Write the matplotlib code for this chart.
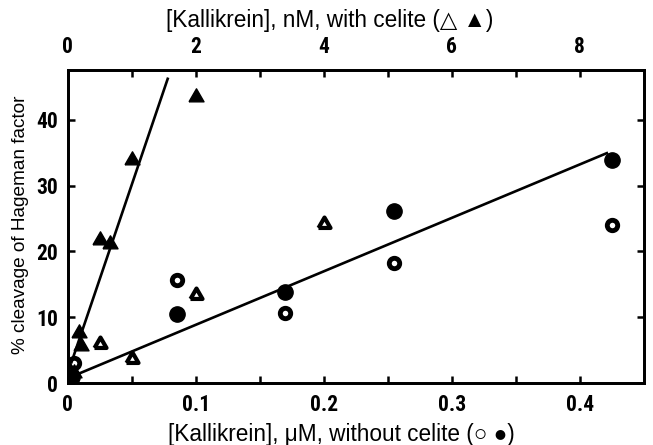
import matplotlib
matplotlib.use("Agg")
import matplotlib.pyplot as plt
import numpy as np

# ---- data ----
# without celite (bottom axis, uM)
open_circ_x = [0.005, 0.085, 0.17, 0.255, 0.425]
open_circ_y = [3.0, 15.7, 10.7, 18.2, 24.0]
fill_circ_x = [0.003, 0.085, 0.17, 0.255, 0.425]
fill_circ_y = [1.0, 10.5, 13.8, 26.1, 33.9]
# with celite (top axis, nM)
open_tri_x = [0.5, 1.0, 2.0, 4.0]
open_tri_y = [5.9, 3.6, 13.4, 24.1]
fill_tri_x = [0.1, 0.17, 0.2, 0.5, 0.66, 1.0, 2.0]
fill_tri_y = [1.5, 7.6, 5.7, 21.8, 21.2, 33.9, 43.4]
# fitted lines (endpoints)
line_uM_x = [0.008, 0.422]
line_uM_y = [1.4, 35.0]
line_nM_x = [0.05, 1.566]
line_nM_y = [3.0, 46.4]

bottom_ticks = [0, 0.1, 0.2, 0.3, 0.4]
bottom_labels = ["0", "0.1", "0.2", "0.3", "0.4"]
top_ticks = [0, 2, 4, 6, 8]
y_ticks = [0, 10, 20, 30, 40]

tick_font = ['Roboto Condensed', 'Barlow Condensed', 'Special Gothic Condensed One', 'DejaVu Sans']
label_font = ['Liberation Sans', 'DejaVu Sans']

fig = plt.figure(figsize=(6.53, 4.45), dpi=100)
ax = fig.add_axes([0.104, 0.139, 0.882, 0.703])
ax2 = ax.twiny()

ax.set_xlim(0, 0.45)
ax.set_ylim(0, 47.5)
ax2.set_xlim(0, 9)

lw = 1.9
tri = [(-1, -0.577), (1, -0.577), (0, 1.155), (-1, -0.577)]

ax.plot(line_uM_x, line_uM_y, color='black', lw=lw, solid_capstyle='butt', zorder=2)
ax2.plot(line_nM_x, line_nM_y, color='black', lw=lw, solid_capstyle='butt', zorder=2)

ax.plot(fill_circ_x, fill_circ_y, 'o', ms=11, color='black', mec='black', zorder=3)
ax.plot(open_circ_x, open_circ_y, 'o', ms=7.5, mfc='white', mec='black', mew=3.5, zorder=3)
ax2.plot(fill_tri_x, fill_tri_y, marker=tri, ls='none', ms=12.5, color='black', mec='black', zorder=3)
ax2.plot(open_tri_x, open_tri_y, marker=tri, ls='none', ms=10, mfc='white', mec='black', mew=3.0, zorder=3)

for a in (ax, ax2):
    for s in a.spines.values():
        s.set_linewidth(2.0)

ax.set_xticks(bottom_ticks)
ax.set_xticklabels(bottom_labels)
ax.set_xticks(np.arange(0.05, 0.45, 0.1), minor=True)
ax.set_yticks(y_ticks)
ax.tick_params(axis='x', which='both', direction='in', length=5, width=1.8, pad=8)
ax.tick_params(axis='y', which='both', direction='in', length=5, width=1.8, pad=7,
               right=True)
ax2.set_xticks(top_ticks)
ax2.set_xticks([1, 3, 5, 7], minor=True)
ax2.tick_params(axis='x', which='both', direction='in', length=5, width=1.8, pad=9)

for lab in ax.get_xticklabels() + ax.get_yticklabels() + ax2.get_xticklabels():
    lab.set_fontfamily(tick_font)
    lab.set_fontweight('bold')
    lab.set_fontsize(15.5)

ax.set_xlabel("[Kallikrein], \u03bcM, without celite (\u25cb \u25cf)", fontfamily=label_font,
              fontsize=16.3)
ax.xaxis.set_label_coords(0.474, -0.128)
ax2.set_xlabel("[Kallikrein], nM, with celite (\u25b3 \u25b2)", fontfamily=label_font,
               fontsize=16.3)
ax2.xaxis.set_label_coords(0.455, 1.14)
ax.set_ylabel("% cleavage of Hageman factor", fontfamily=label_font, fontsize=13.7)
ax.yaxis.set_label_coords(-0.068, 0.505)

fig.savefig("out.png", dpi=100)
